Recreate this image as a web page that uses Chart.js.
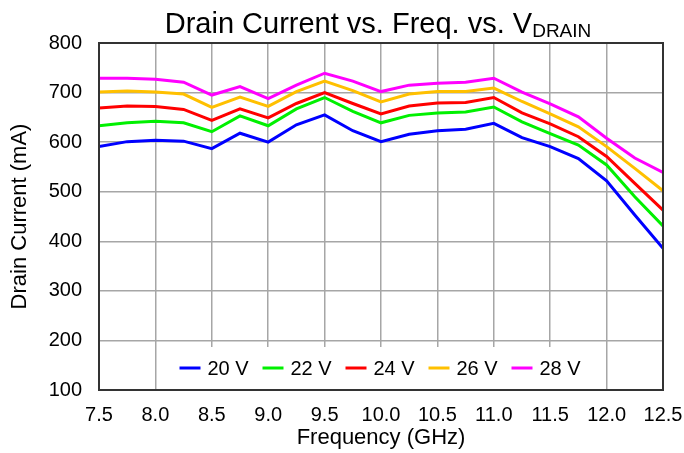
<!DOCTYPE html>
<html>
<head>
<meta charset="utf-8">
<script src="https://cdn.jsdelivr.net/npm/chart.js@4"></script>
<style>
  body { margin: 0; background: #fff; }
</style>
</head>
<body>
<canvas id="drainChart" width="684" height="453"></canvas>
<script>
// Drain current (mA), one value per 0.25 GHz
const freqs = [7.5, 7.75, 8.0, 8.25, 8.5, 8.75, 9.0, 9.25, 9.5, 9.75, 10.0,
               10.25, 10.5, 10.75, 11.0, 11.25, 11.5, 11.75, 12.0, 12.25, 12.5];
const seriesNames = ['20 V', '22 V', '24 V', '26 V', '28 V'];
const seriesColors = ['#0000ff', '#00f000', '#ff0000', '#ffc000', '#ff00ff'];
const v20 = [591, 601, 604, 602, 587, 618, 600, 635, 655, 623, 601, 616, 623, 626, 638, 609, 591, 567, 522, 453, 386];
const v22 = [633, 639, 642, 639, 621, 653, 633, 667, 690, 662, 639, 654, 659, 661, 671, 641, 617, 594, 554, 490, 431];
const v24 = [669, 673, 672, 666, 644, 667, 649, 678, 700, 678, 657, 673, 679, 680, 690, 659, 637, 611, 571, 517, 463];
const v26 = [701, 703, 701, 697, 670, 691, 672, 702, 723, 704, 681, 697, 702, 702, 709, 682, 657, 631, 591, 547, 502];
const v28 = [729, 729, 727, 721, 695, 712, 688, 715, 739, 723, 702, 715, 719, 721, 729, 701, 677, 651, 608, 568, 539];
const seriesValues = [v20, v22, v24, v26, v28];

const FONT = '"Liberation Sans", Arial, sans-serif';

// title with subscript, frame round the plot and the legend box inside it
const decorPlugin = {
    id: 'decor',
    afterDraw(chart) {
        const ctx = chart.ctx;
        const area = chart.chartArea;
        const cx = (area.left + area.right) / 2;

        // legend inside the bottom of the plot
        const itemW = 83;
        const boxW = itemW * seriesNames.length + 20;
        const boxH = 42;
        const boxTop = area.bottom - boxH - 1;
        ctx.save();
        ctx.fillStyle = '#fff';
        ctx.fillRect(cx - boxW / 2, boxTop, boxW, boxH);
        ctx.font = '20px ' + FONT;
        ctx.textBaseline = 'middle';
        ctx.fillStyle = '#000';
        const midY = boxTop + boxH / 2;
        let x = cx - boxW / 2 + 16;
        seriesNames.forEach((name, i) => {
            ctx.strokeStyle = seriesColors[i];
            ctx.lineWidth = 3;
            ctx.beginPath();
            ctx.moveTo(x, midY);
            ctx.lineTo(x + 21, midY);
            ctx.stroke();
            ctx.fillText(name, x + 28, midY + 1);
            x += itemW;
        });

        // frame
        ctx.strokeStyle = '#333';
        ctx.lineWidth = 2;
        ctx.strokeRect(area.left, area.top, area.right - area.left, area.bottom - area.top);

        // title
        const mainText = 'Drain Current vs. Freq. vs. V';
        const subText = 'DRAIN';
        ctx.font = '29px ' + FONT;
        const w1 = ctx.measureText(mainText).width;
        ctx.font = '19px ' + FONT;
        const w2 = ctx.measureText(subText).width;
        const start = cx - 3 - (w1 + w2) / 2;
        ctx.textBaseline = 'alphabetic';
        ctx.textAlign = 'left';
        ctx.font = '29px ' + FONT;
        ctx.fillText(mainText, start, 33);
        ctx.font = '19px ' + FONT;
        ctx.fillText(subText, start + w1, 37);
        ctx.restore();
    }
};

const ctx = document.getElementById('drainChart').getContext('2d');
const drainChart = new Chart(ctx, {
    type: 'line',
    data: {
        datasets: seriesNames.map((name, i) => ({
            label: name,
            data: freqs.map((f, j) => ({ x: f, y: seriesValues[i][j] })),
            borderColor: seriesColors[i],
            backgroundColor: seriesColors[i],
            borderWidth: 3,
            pointRadius: 0,
            tension: 0,
            fill: false
        }))
    },
    options: {
        responsive: false,
        animation: false,
        layout: { padding: { top: 43, right: 21, left: 0, bottom: 0 } },
        plugins: {
            legend: { display: false },
            title: { display: false },
            tooltip: { enabled: false }
        },
        scales: {
            x: {
                type: 'linear',
                min: 7.5,
                max: 12.5,
                afterFit(scale) {
                    scale.height = 63;
                    scale.paddingLeft = 0;
                    scale.paddingRight = 0;
                },
                ticks: {
                    stepSize: 0.5,
                    padding: 13,
                    color: '#000',
                    font: { family: FONT, size: 20 },
                    callback: v => v.toFixed(1)
                },
                grid: { color: '#a6a6a6', lineWidth: 1.5, drawTicks: false },
                border: { display: false },
                title: {
                    display: true,
                    text: 'Frequency (GHz)',
                    color: '#000',
                    font: { family: FONT, size: 22 },
                    padding: { top: 0, bottom: 2 }
                }
            },
            y: {
                min: 100,
                max: 800,
                afterFit(scale) {
                    scale.width = 99;
                    scale.paddingTop = 0;
                    scale.paddingBottom = 0;
                },
                ticks: {
                    stepSize: 100,
                    padding: 17,
                    color: '#000',
                    font: { family: FONT, size: 20 }
                },
                grid: { color: '#a6a6a6', lineWidth: 1.5, drawTicks: false },
                border: { display: false },
                title: {
                    display: true,
                    text: 'Drain Current (mA)',
                    color: '#000',
                    font: { family: FONT, size: 22 },
                    padding: { top: 7, bottom: 0 }
                }
            }
        }
    },
    plugins: [decorPlugin]
});
</script>
</body>
</html>
